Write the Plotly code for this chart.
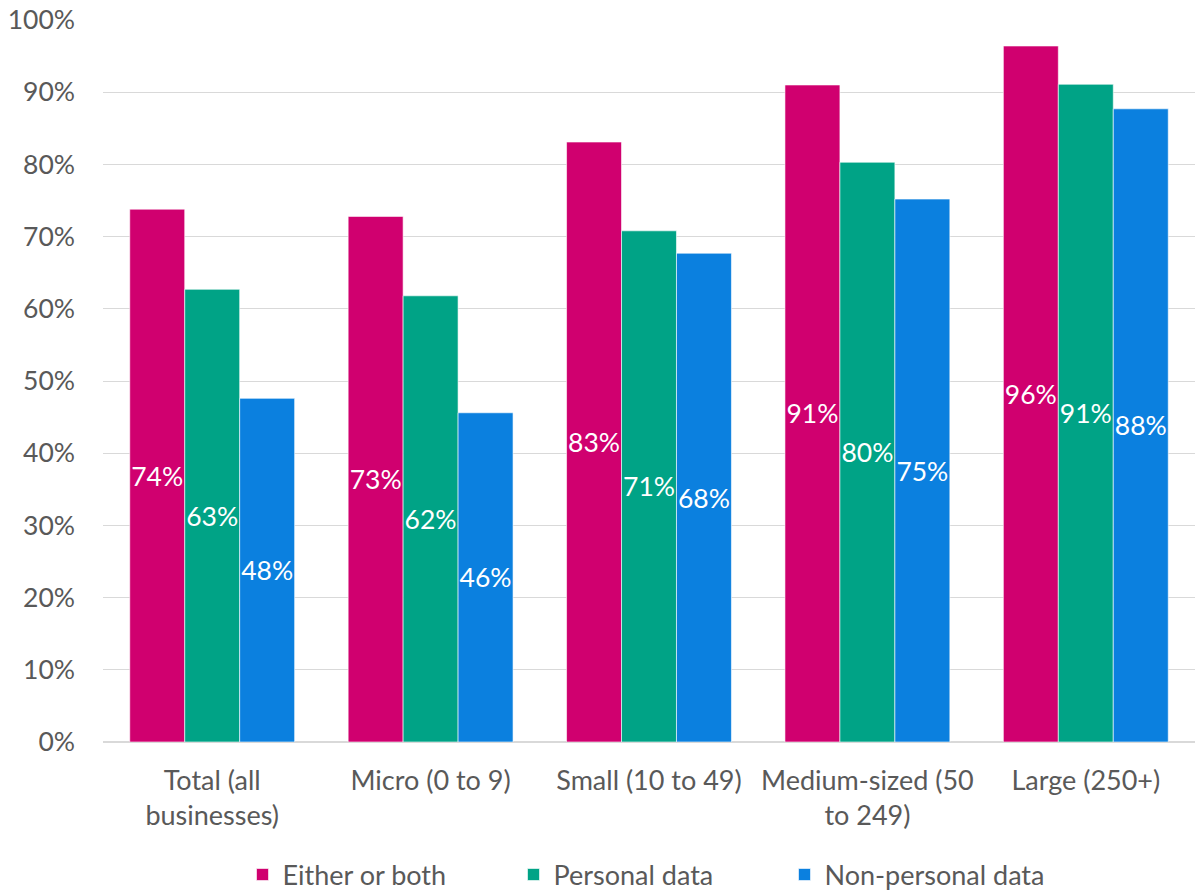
import plotly.graph_objects as go

categories = ["Total (all<br>businesses)", "Micro (0 to 9)", "Small (10 to 49)",
              "Medium-sized (50<br>to 249)", "Large (250+)"]
either_or_both = [73.8, 72.8, 83.1, 91.0, 96.4]
personal_data = [62.7, 61.8, 70.8, 80.3, 91.1]
non_personal_data = [47.6, 45.6, 67.7, 75.2, 87.7]

series = [
    ("Either or both", either_or_both, "#D0006F"),
    ("Personal data", personal_data, "#00A386"),
    ("Non-personal data", non_personal_data, "#0B80DF"),
]

FONT = "Lato, Open Sans, sans-serif"

fig = go.Figure()
for name, vals, color in series:
    fig.add_trace(go.Bar(
        name=name, x=categories, y=vals,
        marker=dict(color=color, line=dict(color="rgba(255,255,255,0.6)", width=1)),
        texttemplate="%{y:.0f}%", textposition="inside", insidetextanchor="middle",
        textangle=0, constraintext="none",
        textfont=dict(color="white", size=26.5, family=FONT),
    ))

fig.update_layout(
    width=1198, height=891,
    barmode="group", bargap=0.245, bargroupgap=0,
    margin=dict(l=103, r=3, t=20, b=149, autoexpand=False),
    plot_bgcolor="white", paper_bgcolor="white",
    font=dict(family=FONT, size=27, color="#595959"),
    legend=dict(orientation="h", x=0.5, xanchor="center", xref="paper",
                y=0.018, yanchor="middle", yref="container",
                font=dict(size=27, color="#595959"), itemwidth=30,
                entrywidth=226, traceorder="normal"),
    uniformtext=dict(mode=False),
)
fig.update_yaxes(range=[0, 100], dtick=10, ticksuffix="%", showgrid=True,
                 gridcolor="#D9D9D9", gridwidth=1, zeroline=True, zerolinecolor="#D9D9D9",
                 showline=False, ticklabelstandoff=27, automargin=False,
                 tickfont=dict(size=26.5, color="#595959"))
fig.update_xaxes(showgrid=False, ticklabelstandoff=20, automargin=False,
                 tickfont=dict(size=27, color="#595959"))

fig.write_html("out.html")
